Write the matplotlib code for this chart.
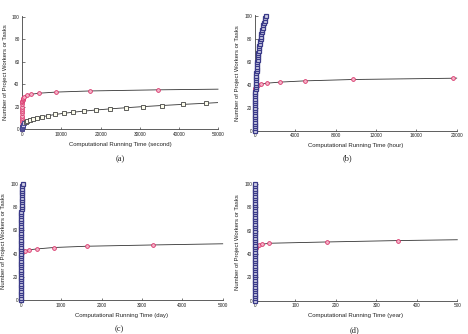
import matplotlib
matplotlib.use("Agg")
import matplotlib.pyplot as plt

plt.rcParams['font.family'] = ['Liberation Sans', 'DejaVu Sans']

# (a) seconds
pink_a_y = [0, 2, 4, 6, 8, 10, 12, 14, 16, 18, 20, 22, 24, 25, 26, 27, 28,
            29, 30, 31, 32, 33, 34, 35]
pink_a_t = [0, 0, 0, 0, 0, 0, 0, 0, 0, 0, 1, 4, 17, 34, 68, 135, 270,
            540, 1080, 2160, 4325, 8650, 17300, 34600]
pink_a_end = (50000, 35.6)

sq_a_y = list(range(0, 24))
sq_a_t = [0, 4, 30, 100, 250, 480, 830, 1320, 1970, 2810, 3850, 5120, 6650,
          8460, 10560, 13000, 15770, 18900, 22450, 26400, 30800, 35650, 41000, 46850]
sq_a_end = (50000, 23.6)

# (b)-(d) same task series, read in hours
sq_n = [0, 2, 4, 6, 8, 10, 12, 14, 16, 18, 20, 22, 24, 26, 28, 30, 32, 34, 36,
        38, 40, 42, 44, 46, 48, 50, 52, 54, 56, 58, 60, 62, 64, 66, 68, 70, 72,
        74, 76, 78, 80, 82, 84, 86, 88, 90, 92, 94, 96, 98, 100]
sq_hours = [0, 0.01, 0.07, 0.23, 0.55, 1.1, 1.9, 2.9, 4.4, 6.2, 8.6, 11.4, 14.8,
            18.8, 23.5, 29, 35, 42, 50, 59, 68, 79, 91, 104, 118, 134, 150, 168,
            188, 209, 231, 255, 281, 308, 336, 367, 399, 434, 470, 508, 548, 590,
            634, 681, 729, 780, 833, 889, 947, 1007, 1070]

pink_b_t = [0, 20, 40, 80, 155, 320, 625, 1230, 2450, 4920, 9750, 19600]
pink_b_y = [35, 36, 37, 38, 39, 39.8, 40.6, 41.5, 42.4, 43.5, 44.7, 45.8]
pink_b_end = (20000, 45.9)

pink_c_t = [0, 3, 6, 13, 25, 51, 102, 205, 410, 820, 1640, 3280]
pink_c_y = [38, 39, 40, 40.5, 41.2, 41.8, 42.4, 43.2, 44.0, 45.2, 46.3, 47.4]
pink_c_end = (5000, 48.4)

pink_d_t = [0, 1, 2, 3, 5.8, 10, 18, 36, 178, 354]
pink_d_y = [42.8, 44.5, 45.5, 46.2, 47.0, 47.6, 48.4, 49.3, 50.4, 51.6]
pink_d_end = (500, 52.3)

panels = [
    # rect in pixels: left, top, right, bottom ; xmax ; step ; unit ; caption
    dict(rect=(22.3, 16, 218, 129), xmax=50000, step=10000, unit='second', cap='(a)', capx=120, capy=159),
    dict(rect=(255, 15, 456.7, 130.7), xmax=20000, step=4000, unit='hour', cap='(b)', capx=347, capy=158),
    dict(rect=(20.7, 182.7, 222.7, 300), xmax=5000, step=1000, unit='day', cap='(c)', capx=119, capy=329),
    dict(rect=(254.7, 183, 457.3, 300.7), xmax=500, step=100, unit='year', cap='(d)', capx=354, capy=330),
]

W, H = 468, 334
fig = plt.figure(figsize=(W / 100, H / 100), dpi=100)

line_col = '#333333'
pink_edge = '#d8346a'
pink_face = '#f5b3c8'
sq_edge_a = '#444444'
sq_face_a = '#fcfcec'
sq_edge = '#3a3a88'
sq_face = '#d0d0e6'


def pink(ax, t, y, end):
    ax.plot(list(t) + [end[0]], list(y) + [end[1]], color=line_col, lw=0.6, zorder=2, clip_on=False)
    ax.plot(t, y, ls='none', marker='o', ms=2.7, mfc=pink_face, mec=pink_edge, mew=0.6,
            zorder=3, clip_on=False)


axes = []
for p in panels:
    l, t, r, b = p['rect']
    ax = fig.add_axes([l / W, 1 - b / H, (r - l) / W, (b - t) / H])
    ax.set_xlim(0, p['xmax'])
    ax.set_ylim(0, 101)
    ax.set_xticks(range(0, p['xmax'] + 1, p['step']))
    ax.set_yticks(range(0, 101, 20))
    for s in ['top', 'right']:
        ax.spines[s].set_visible(False)
    for s in ['left', 'bottom']:
        ax.spines[s].set_linewidth(0.6)
        ax.spines[s].set_color('#444444')
    ax.tick_params(direction='in', length=1.8, width=0.5, labelsize=3.4, pad=2,
                   colors='#444444', labelcolor='#222222')
    ax.set_xlabel('Computational Running Time (%s)' % p['unit'], fontsize=4.3, labelpad=3.5,
                  color='#222222')
    ax.set_ylabel('Number of Project Workers or Tasks', fontsize=4.3, labelpad=3,
                  color='#222222')
    fig.text(p['capx'] / W, 1 - p['capy'] / H, p['cap'], fontsize=6, ha='center', va='center',
             family=['Liberation Serif'], color='#222222')
    axes.append(ax)

ax_a, ax_b, ax_c, ax_d = axes

# (a)
pink(ax_a, pink_a_t, pink_a_y, pink_a_end)
ax_a.plot(sq_a_t + [sq_a_end[0]], sq_a_y + [sq_a_end[1]], color=line_col, lw=0.6, zorder=2)
ax_a.plot(sq_a_t[:6], sq_a_y[:6], ls='none', marker='s', ms=2.5, mfc=sq_face, mec=sq_edge,
          mew=0.6, zorder=4, clip_on=False)
ax_a.plot(sq_a_t[6:], sq_a_y[6:], ls='none', marker='s', ms=2.5, mfc=sq_face_a, mec=sq_edge_a,
          mew=0.6, zorder=4, clip_on=False)

# (b), (c), (d)
pink(ax_b, pink_b_t, pink_b_y, pink_b_end)
pink(ax_c, pink_c_t, pink_c_y, pink_c_end)
pink(ax_d, pink_d_t, pink_d_y, pink_d_end)

for ax, div in [(ax_b, 1), (ax_c, 24), (ax_d, 8760)]:
    x = [h / div for h in sq_hours]
    ax.plot(x, sq_n, color=line_col, lw=0.6, zorder=4, clip_on=False)
    ax.plot(x, sq_n, ls='none', marker='s', ms=2.7, mfc=sq_face, mec=sq_edge, mew=0.9,
            zorder=5, clip_on=False)

fig.savefig('out.png', dpi=100)
